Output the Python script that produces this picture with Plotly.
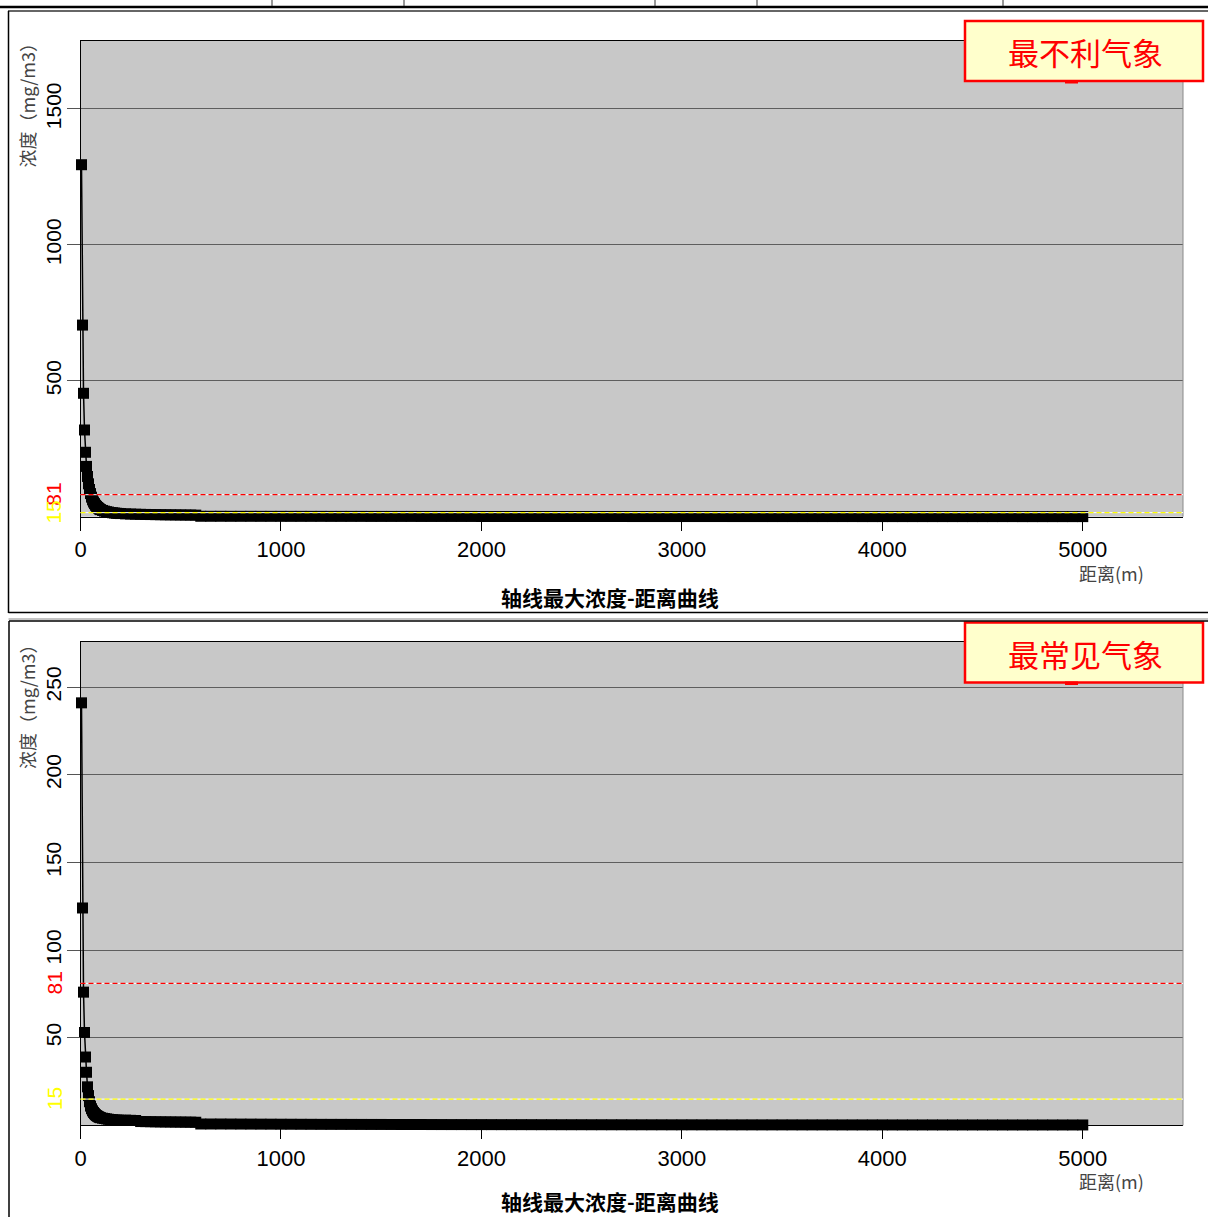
import plotly.graph_objects as go

W, H = 1208, 1217

# distance grid (m)
dist_near = list(range(5, 101, 5))
dist_mid = list(range(110, 201, 10))
dist_far = list(range(225, 601, 25))
dist_tail = list(range(650, 5001, 50))
distance = dist_near + dist_mid + dist_far + dist_tail

# axial maximum concentration (mg/m3), worst-case meteorology
worst_near = [1295, 705, 454, 319, 237, 185, 148, 121, 100, 85,
              72, 62, 54, 48, 42, 38, 34, 31, 28, 26]
worst_mid = [23, 20.5, 18.5, 17, 15.5, 14.5, 13.5, 12.5, 12, 11.5]
worst_far = [10.5, 9.8, 9.2, 8.7, 8.3, 7.9, 7.6, 7.3, 7.0, 6.8,
             6.6, 6.4, 6.2, 6.0, 5.8, 1.6]
worst_tail = [1.5, 1.5, 1.4, 1.4, 1.4, 1.3, 1.3, 1.3, 1.2, 1.2,
              1.2, 1.2, 1.1, 1.1, 1.1, 1.1, 1.0, 1.0, 1.0, 1.0,
              1.0, 0.9, 0.9, 0.9, 0.9, 0.9, 0.9, 0.8, 0.8, 0.8,
              0.8, 0.8, 0.8, 0.8, 0.7, 0.7, 0.7, 0.7, 0.7, 0.7,
              0.7, 0.7, 0.6, 0.6, 0.6, 0.6, 0.6, 0.6, 0.6, 0.6,
              0.6, 0.6, 0.5, 0.5, 0.5, 0.5, 0.5, 0.5, 0.5, 0.5,
              0.5, 0.5, 0.5, 0.5, 0.5, 0.4, 0.4, 0.4, 0.4, 0.4,
              0.4, 0.4, 0.4, 0.4, 0.4, 0.4, 0.4, 0.4, 0.4, 0.4,
              0.4, 0.3, 0.3, 0.3, 0.3, 0.3, 0.3, 0.3]
worst_conc = worst_near + worst_mid + worst_far + worst_tail

# axial maximum concentration (mg/m3), most frequent meteorology
common_near = [241, 124, 76, 53, 39, 30.3, 22, 17, 13.5, 11,
               9.5, 8.3, 7.4, 6.7, 6.1, 5.6, 5.2, 4.9, 4.6, 4.4]
common_mid = [4.1, 3.9, 3.7, 3.5, 3.35, 3.2, 3.1, 3.0, 2.95, 2.9]
common_far = [3.0, 2.9, 2.8, 2.2, 2.15, 2.1, 2.05, 2.0, 1.98, 1.95,
              1.92, 1.9, 1.87, 1.84, 1.8, 0.8]
common_tail = [0.8, 0.8, 0.78, 0.76, 0.74, 0.72, 0.7, 0.68, 0.66, 0.64,
               0.62, 0.6, 0.59, 0.58, 0.57, 0.56, 0.55, 0.54, 0.53, 0.52,
               0.51, 0.5, 0.49, 0.48, 0.47, 0.46, 0.45, 0.45, 0.44, 0.43,
               0.42, 0.42, 0.41, 0.4, 0.4, 0.39, 0.38, 0.38, 0.37, 0.37,
               0.36, 0.36, 0.35, 0.35, 0.34, 0.34, 0.33, 0.33, 0.33, 0.32,
               0.32, 0.32, 0.31, 0.31, 0.31, 0.3, 0.3, 0.3, 0.3, 0.29,
               0.29, 0.29, 0.29, 0.28, 0.28, 0.28, 0.28, 0.28, 0.27, 0.27,
               0.27, 0.27, 0.27, 0.26, 0.26, 0.26, 0.26, 0.26, 0.26, 0.25,
               0.25, 0.25, 0.25, 0.25, 0.25, 0.25, 0.25, 0.25]
common_conc = common_near + common_mid + common_far + common_tail

# threshold levels (mg/m3)
threshold_red = 81
threshold_yellow = 15

x_ticks = [0, 1000, 2000, 3000, 4000, 5000]
y_ticks_worst = [500, 1000, 1500]
y_ticks_common = [50, 100, 150, 200, 250]

panels = [
    dict(name="最不利气象", conc=worst_conc, yt=y_ticks_worst, yr=[0, 1752],
         top=40.5, bottom=516.7, cap=597, xs="x", ys="y", ax="xaxis", ay="yaxis"),
    dict(name="最常见气象", conc=common_conc, yt=y_ticks_common, yr=[0, 275.7],
         top=642, bottom=1125.4, cap=1201, xs="x2", ys="y2", ax="xaxis2", ay="yaxis2"),
]

NUM_FONT = "Liberation Sans, Arial, sans-serif"
CJK = "Noto Sans CJK SC"


def px(x):
    return x / W


def py(y):
    return 1 - y / H


fig = go.Figure()
shapes = []
annotations = []
layout_axes = {}

x0_px, x1_px = 80.5, 1183

for p in panels:
    fig.add_trace(go.Scatter(
        x=distance, y=p["conc"], xaxis=p["xs"], yaxis=p["ys"],
        mode="lines+markers",
        line=dict(color="black", width=1.5),
        marker=dict(symbol="square", size=11, color="black"),
        cliponaxis=False, showlegend=False, hoverinfo="skip",
    ))

    layout_axes[p["ax"]] = dict(
        domain=[px(x0_px), px(x1_px)], range=[0, 5500], anchor=p["ys"],
        automargin=False,
        showline=True, linecolor="black", linewidth=1, mirror=True,
        ticks="outside", ticklen=13, tickcolor="black", tickwidth=1,
        tickvals=x_ticks, ticktext=[str(v) for v in x_ticks],
        tickfont=dict(family=NUM_FONT, size=22, color="black"),
        showgrid=False, zeroline=False,
    )
    layout_axes[p["ay"]] = dict(
        domain=[py(p["bottom"]), py(p["top"])], range=p["yr"], anchor=p["xs"],
        automargin=False,
        showline=True, linecolor="black", linewidth=1,
        ticks="outside", ticklen=13, tickcolor="#555555", tickwidth=1,
        ticklabelstandoff=-3,
        tickvals=p["yt"], ticktext=[str(v) for v in p["yt"]], tickangle=-90,
        tickfont=dict(family=NUM_FONT, size=21, color="black"),
        showgrid=True, gridcolor="#5e5e5e", gridwidth=1, zeroline=False,
    )

    xr = p["xs"]
    yr = p["ys"]
    # right edge of plot frame
    shapes.append(dict(type="line", xref=xr + " domain", yref=yr + " domain",
                       x0=1, x1=1, y0=0, y1=1, line=dict(color="#8a8a8a", width=1)))
    # threshold lines
    for val, col in [(threshold_red, "#ff0000"), (threshold_yellow, "#ffff00")]:
        shapes.append(dict(type="line", xref=xr + " domain", yref=yr,
                           x0=0, x1=1, y0=val, y1=val, layer="above",
                           line=dict(color="white", width=1)))
        shapes.append(dict(type="line", xref=xr + " domain", yref=yr,
                           x0=0, x1=1, y0=val, y1=val, layer="above",
                           line=dict(color=col, width=1.3, dash="5px,3px")))
        annotations.append(dict(
            text=str(val), xref="paper", yref=yr, x=px(54), y=val,
            xanchor="center", yanchor="middle", showarrow=False, textangle=-90,
            font=dict(family=NUM_FONT, size=21, color=col)))

    # y-axis title
    ymid = p["top"] + 60
    annotations.append(dict(
        text="浓度（mg/m3）", xref="paper", yref="paper", x=px(27), y=py(ymid),
        xanchor="center", yanchor="middle", showarrow=False, textangle=-90,
        font=dict(family=CJK, size=18, color="#444444")))
    # x-axis title
    annotations.append(dict(
        text="距离(m)", xref="paper", yref="paper", x=px(1111), y=py(p["bottom"] + 56),
        xanchor="center", yanchor="middle", showarrow=False,
        font=dict(family=CJK, size=18, color="#444444")))
    # chart caption
    annotations.append(dict(
        text="<b>轴线最大浓度-距离曲线</b>", xref="paper", yref="paper",
        x=px(610), y=py(p["cap"]), borderpad=0,
        xanchor="center", yanchor="middle", showarrow=False,
        font=dict(family=CJK, size=21, color="black")))

    # meteorology tag box
    btop = p["top"] - 19.5
    shapes.append(dict(type="rect", xref="paper", yref="paper",
                       x0=px(965), x1=px(1203), y0=py(btop + 60), y1=py(btop),
                       fillcolor="#ffffcc", line=dict(color="#ff0000", width=2.5),
                       layer="above"))
    shapes.append(dict(type="rect", xref="paper", yref="paper",
                       x0=px(1065), x1=px(1078), y0=py(btop + 62.5), y1=py(btop + 59),
                       fillcolor="#ff0000", line=dict(width=0), layer="above"))
    annotations.append(dict(
        text=p["name"], xref="paper", yref="paper", x=px(1085), y=py(btop + 31),
        xanchor="center", yanchor="middle", showarrow=False,
        font=dict(family=CJK, size=31, color="#ff0000")))

# panel frames and header rule
frame = dict(color="black", width=1.5)
shapes += [
    dict(type="line", xref="paper", yref="paper", x0=0, x1=1, y0=py(7), y1=py(7),
         line=dict(color="black", width=2.5)),
    dict(type="line", xref="paper", yref="paper", x0=px(8), x1=1, y0=py(11), y1=py(11),
         line=dict(color="#333333", width=1.5)),
    dict(type="line", xref="paper", yref="paper", x0=px(8.5), x1=px(8.5), y0=py(613), y1=py(11),
         line=frame),
    dict(type="line", xref="paper", yref="paper", x0=px(8.5), x1=1, y0=py(612.5), y1=py(612.5),
         line=frame),
    dict(type="line", xref="paper", yref="paper", x0=px(8.5), x1=1, y0=py(619), y1=py(619),
         line=dict(color="#888888", width=1)),
    dict(type="line", xref="paper", yref="paper", x0=px(9), x1=1, y0=py(621), y1=py(621),
         line=frame),
    dict(type="line", xref="paper", yref="paper", x0=px(9), x1=px(9), y0=0, y1=py(621),
         line=frame),
]
for xv in [272, 404, 655, 757, 1003]:
    shapes.append(dict(type="line", xref="paper", yref="paper", x0=px(xv), x1=px(xv),
                       y0=py(6), y1=1, line=dict(color="#333333", width=1)))

fig.update_layout(
    width=W, height=H, autosize=False,
    margin=dict(l=0, r=0, t=0, b=0, autoexpand=False),
    paper_bgcolor="white", plot_bgcolor="#c8c8c8",
    shapes=shapes, annotations=annotations, showlegend=False,
    **layout_axes,
)

fig.write_html("out.html")
